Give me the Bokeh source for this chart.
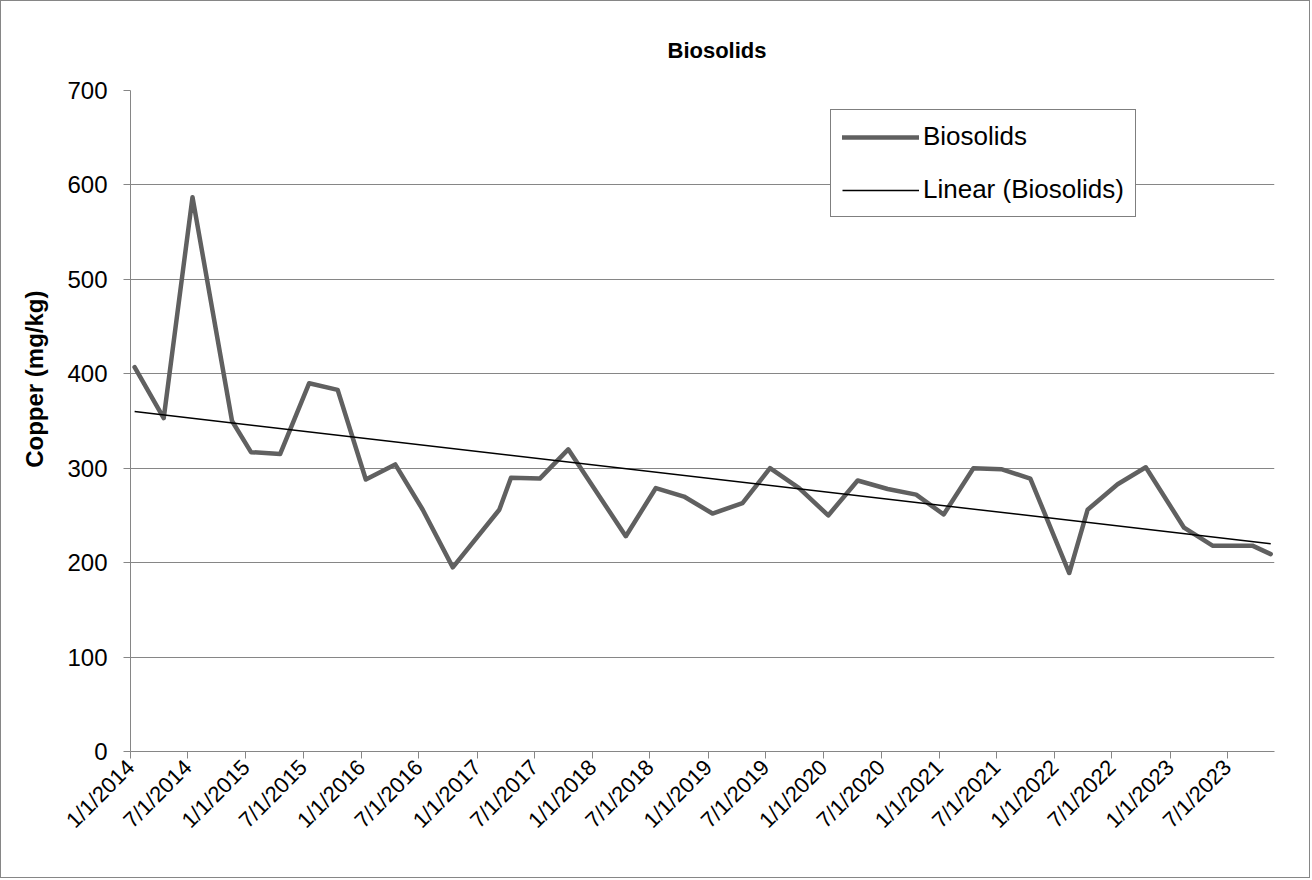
import math
import numpy as np
import pandas as pd
from bokeh.plotting import figure
from bokeh.models import FixedTicker, Legend, LegendItem, Range1d, ColumnDataSource, Title
from bokeh.embed import file_html
from bokeh.resources import INLINE

# ---- data ----
sample_dates = [
    "2014-01-14", "2014-04-16", "2014-07-16", "2014-11-18", "2015-01-17", "2015-04-19",
    "2015-07-20", "2015-10-18", "2016-01-15", "2016-04-17", "2016-07-13", "2016-10-16",
    "2017-03-12", "2017-04-18", "2017-07-18", "2017-10-16", "2018-04-16", "2018-07-20",
    "2018-10-17", "2019-01-15", "2019-04-20", "2019-07-16", "2019-10-16", "2020-01-16",
    "2020-04-18", "2020-07-22", "2020-10-20", "2021-01-15", "2021-04-19", "2021-07-16",
    "2021-10-16", "2022-02-16", "2022-04-15", "2022-07-19", "2022-10-16", "2023-02-14",
    "2023-05-15", "2023-09-18", "2023-11-15",
]
copper = [
    407, 353, 587, 350, 317, 315,
    390, 383, 288, 304, 256, 195,
    256, 290, 289, 320, 228, 279,
    270, 252, 263, 300, 279, 250,
    287, 278, 272, 251, 300, 299,
    289, 189, 256, 283, 301, 237,
    218, 218, 209,
]
tick_dates = [
    "2014-01-01", "2014-07-01", "2015-01-01", "2015-07-01", "2016-01-01", "2016-07-01",
    "2017-01-01", "2017-07-01", "2018-01-01", "2018-07-01", "2019-01-01", "2019-07-01",
    "2020-01-01", "2020-07-01", "2021-01-01", "2021-07-01", "2022-01-01", "2022-07-01",
    "2023-01-01", "2023-07-01",
]
tick_labels = [
    "1/1/2014", "7/1/2014", "1/1/2015", "7/1/2015", "1/1/2016", "7/1/2016",
    "1/1/2017", "7/1/2017", "1/1/2018", "7/1/2018", "1/1/2019", "7/1/2019",
    "1/1/2020", "7/1/2020", "1/1/2021", "7/1/2021", "1/1/2022", "7/1/2022",
    "1/1/2023", "7/1/2023",
]
y_ticks = [0, 100, 200, 300, 400, 500, 600, 700]

EPOCH = pd.Timestamp("1970-01-01")


def to_ms(s):
    return float((pd.Timestamp(s) - EPOCH) // pd.Timedelta(milliseconds=1))


x_ms = [to_ms(d) for d in sample_dates]
tick_ms = [to_ms(d) for d in tick_dates]

# linear trend (least squares, like Excel's "Linear" trendline)
days = np.array([(m - x_ms[0]) / 86400000.0 for m in x_ms])
slope, intercept = np.polyfit(days, np.array(copper, dtype=float), 1)
trend_x = [x_ms[0], x_ms[-1]]
trend_y = [intercept, intercept + slope * days[-1]]

FONT = "Liberation Sans"
GRID = "#868686"

p = figure(
    width=1310, height=878,
    x_axis_type="datetime",
    x_range=Range1d(to_ms("2014-01-01"), to_ms("2023-11-27")),
    y_range=Range1d(0, 700),
    output_backend="svg", toolbar_location=None,
    min_border_left=129, min_border_right=37, min_border_top=89, min_border_bottom=128,
)
p.styles = {"border": "1px solid #868686"}
p.outline_line_color = None
p.background_fill_color = "white"
p.border_fill_color = "white"

p.add_layout(Title(
    text="Biosolids", align="left", offset=537, standoff=56,
    text_font=FONT, text_font_size="22px", text_font_style="bold", text_color="black",
), "above")

src = ColumnDataSource(dict(x=x_ms, y=copper))
r1 = p.line("x", "y", source=src, line_color="#606060", line_width=4.5,
            line_join="round", line_cap="round")
r2 = p.line(trend_x, trend_y, line_color="black", line_width=1.5)

# axes
xa = p.xaxis[0]
xa.ticker = FixedTicker(ticks=tick_ms)
xa.major_label_overrides = {t: lab for t, lab in zip(tick_ms, tick_labels)}
xa.major_label_orientation = math.pi / 4
xa.major_label_text_font = FONT
xa.major_label_text_font_size = "22px"
xa.major_label_text_color = "black"
xa.axis_line_color = GRID
xa.major_tick_line_color = GRID
xa.major_tick_out = 7
xa.major_tick_in = 0
xa.minor_tick_line_color = None
xa.major_label_standoff = 5

ya = p.yaxis[0]
ya.ticker = FixedTicker(ticks=y_ticks)
ya.major_label_text_font = FONT
ya.major_label_text_font_size = "24px"
ya.major_label_text_color = "black"
ya.axis_line_color = GRID
ya.major_tick_line_color = GRID
ya.major_tick_out = 7
ya.major_tick_in = 0
ya.minor_tick_line_color = None
ya.major_label_standoff = 16

# y-axis title, placed higher than centre as in the reference
p.add_layout(Title(
    text="Copper (mg/kg)", align="right", offset=200, standoff=33,
    text_font=FONT, text_font_size="24px", text_font_style="bold", text_color="black",
), "left")

p.xgrid.grid_line_color = None
p.ygrid.grid_line_color = GRID
p.ygrid.grid_line_width = 1
p.ygrid.ticker = FixedTicker(ticks=y_ticks)

legend = Legend(
    items=[LegendItem(label="Biosolids", renderers=[r1]),
           LegendItem(label="Linear (Biosolids)", renderers=[r2])],
    location=(700, 534),
    border_line_color="black", border_line_width=1.2,
    background_fill_color="white", background_fill_alpha=1,
    padding=11, spacing=22, margin=0,
    glyph_width=77, glyph_height=30, label_height=30, label_standoff=4,
    label_text_font=FONT, label_text_font_size="26px", label_text_color="black",
)
p.add_layout(legend)

open("out.html", "w").write(file_html(p, INLINE))
